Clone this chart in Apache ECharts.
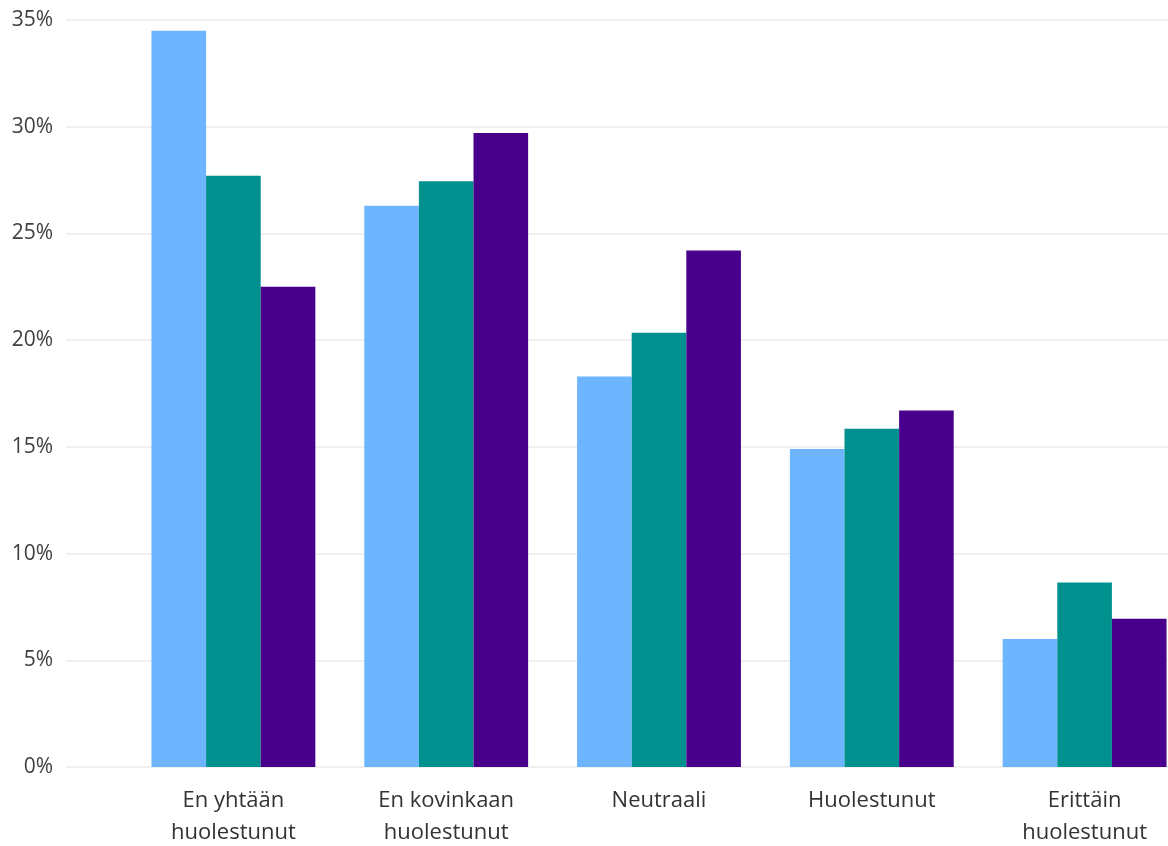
<!DOCTYPE html>
<html>
<head>
<meta charset="utf-8">
<script src="https://cdn.jsdelivr.net/npm/echarts@6/dist/echarts.min.js"></script>
<style>
html,body{margin:0;padding:0;background:#fff;}
#c{width:1168px;height:846px;}
</style>
</head>
<body>
<div id="c"></div>
<script>
const categories = ["En yhtään\nhuolestunut", "En kovinkaan\nhuolestunut", "Neutraali", "Huolestunut", "Erittäin\nhuolestunut"];
const seriesNames = ["Sarja 1", "Sarja 2", "Sarja 3"];
const series1 = [34.5, 26.3, 18.3, 14.9, 6.0];
const series2 = [27.7, 27.45, 20.35, 15.85, 8.65];
const series3 = [22.5, 29.7, 24.2, 16.7, 6.95];
const yTicks = [0, 5, 10, 15, 20, 25, 30, 35];
const colors = ["#6EB5FF", "#00918F", "#48008C"];

const font = "'Open Sans', 'Noto Sans', sans-serif";
const chart = echarts.init(document.getElementById('c'), null, {renderer: 'canvas'});
const yMin = yTicks[0], yMax = yTicks[yTicks.length - 1], yInt = yTicks[1] - yTicks[0];
chart.setOption({
  animation: false,
  grid: [
    {left: 66, right: 0, top: 20, bottom: 79, containLabel: false, outerBoundsMode: 'none'},
    {left: 127, right: -23, top: 20, bottom: 79, containLabel: false, outerBoundsMode: 'none'}
  ],
  xAxis: [
    {gridIndex: 0, type: 'category', data: categories, show: false},
    {gridIndex: 1, type: 'category', data: categories,
     axisLine: {show: false}, axisTick: {show: false},
     axisLabel: {interval: 0, margin: 18, color: '#333333', fontSize: 22, lineHeight: 32, fontFamily: font}}
  ],
  yAxis: [
    {gridIndex: 0, type: 'value', min: yMin, max: yMax, interval: yInt,
     axisLine: {show: false}, axisTick: {show: false},
     axisLabel: {formatter: '{value}%', margin: 13, color: '#404040', fontSize: 21, fontFamily: font},
     splitLine: {show: true, lineStyle: {color: '#f0f0f0', width: 2}}},
    {gridIndex: 1, type: 'value', min: yMin, max: yMax, interval: yInt, show: false, splitLine: {show: false}}
  ],
  series: [series1, series2, series3].map((d, i) => ({
    name: seriesNames[i], type: 'bar', xAxisIndex: 1, yAxisIndex: 1, data: d,
    barGap: '0%', barCategoryGap: '23%',
    itemStyle: {color: colors[i]}
  }))
});
</script>
</body>
</html>
